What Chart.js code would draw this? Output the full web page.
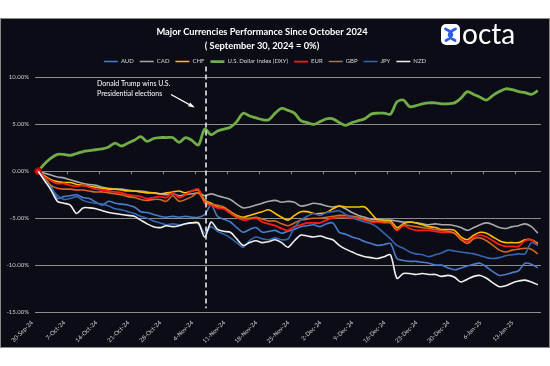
<!DOCTYPE html>
<html>
<head>
<meta charset="utf-8">
<script src="https://cdn.jsdelivr.net/npm/chart.js@4"></script>
<style>
    html, body { margin: 0; padding: 0; background: #ffffff; }
    #box {
        position: absolute; left: 0; top: 18px;
        width: 548px; height: 328px;
        background: #0b0c16; border: 1px solid #8a8a8a;
    }
    canvas { display: block; }
</style>
</head>
<body>
<div id="box"><canvas id="currencyChart" width="548" height="328"></canvas></div>
<script>
// weekly tick labels (every 5th trading day)
const weekLabels = ["30-Sep-24", "7-Oct-24", "14-Oct-24", "21-Oct-24", "28-Oct-24", "4-Nov-24",
    "11-Nov-24", "18-Nov-24", "25-Nov-24", "2-Dec-24", "9-Dec-24", "16-Dec-24",
    "23-Dec-24", "30-Dec-24", "6-Jan-25", "13-Jan-25"];
const daysPerLabel = 5;
const electionIndex = 26;

// % change since 30 Sep 2024, one value per trading day
const audValues = [0,-0.7,-1.6,-2.9,-2.7,-2.6,-2.5,-2.8,-2.9,-3.3,
    -3.6,-3.2,-3.4,-3.5,-3.6,-3.8,-4.3,-4.4,-4.6,-4.8,
    -4.9,-4.8,-4.9,-4.8,-4.9,-4.9,-4.6,-3.6,-4.8,-5.1,
    -5.4,-6.0,-6.5,-6.2,-6.0,-6.5,-6.4,-6.3,-6.6,-6.4,
    -6.2,-5.9,-5.8,-5.7,-5.9,-5.6,-5.5,-6.5,-6.7,-7.0,
    -7.2,-7.5,-7.7,-7.9,-7.8,-7.7,-9.3,-9.5,-9.6,-9.6,
    -9.7,-9.8,-10.0,-10.0,-10.3,-10.5,-10.3,-10.1,-9.9,-9.8,
    -10.2,-10.7,-11.1,-11.0,-10.8,-10.6,-9.8,-9.9,-10.3];
const cadValues = [0,-0.2,-0.4,-0.6,-0.7,-0.9,-1.1,-1.3,-1.4,-1.5,
    -1.7,-1.8,-1.9,-1.9,-2.0,-2.1,-2.1,-2.2,-2.3,-2.4,
    -2.5,-2.4,-2.6,-2.5,-2.4,-2.3,-2.6,-2.4,-2.6,-2.8,
    -3.0,-3.5,-3.9,-3.8,-3.6,-3.4,-3.2,-3.1,-3.3,-3.2,
    -3.3,-3.7,-3.6,-3.4,-3.5,-3.7,-3.8,-3.7,-4.0,-4.4,
    -4.7,-4.9,-5.1,-5.1,-5.2,-5.2,-5.3,-5.4,-5.4,-5.5,
    -5.6,-5.7,-5.6,-5.7,-5.7,-5.8,-6.0,-6.3,-6.0,-5.7,
    -5.5,-5.7,-6.0,-6.1,-5.9,-5.8,-5.6,-5.9,-6.6];
const chfValues = [0,-0.5,-0.9,-1.1,-1.2,-1.2,-1.4,-1.5,-1.6,-1.7,
    -1.8,-1.9,-1.9,-2.0,-2.1,-2.1,-2.2,-2.3,-2.3,-2.4,
    -2.3,-2.2,-2.1,-2.3,-2.1,-2.0,-3.1,-3.4,-3.8,-3.9,
    -4.3,-4.7,-4.9,-4.7,-4.5,-4.3,-4.1,-4.5,-4.9,-5.2,
    -4.7,-4.3,-4.3,-4.5,-4.5,-4.4,-4.0,-3.7,-3.8,-3.8,
    -3.8,-3.8,-4.5,-5.2,-5.3,-5.3,-6.0,-5.6,-5.4,-5.5,
    -5.7,-5.9,-6.0,-6.2,-6.2,-6.3,-7.0,-7.3,-6.8,-6.5,
    -6.6,-7.0,-7.4,-7.6,-7.6,-7.6,-7.3,-7.3,-7.7];
const dxyValues = [0,0.8,1.4,1.8,1.8,1.7,1.9,2.1,2.2,2.3,
    2.4,2.6,3.0,2.7,3.0,3.3,3.7,3.2,3.5,3.6,
    3.6,3.6,3.1,3.6,3.3,2.8,4.5,3.9,4.3,4.5,
    4.7,5.3,6.2,5.9,5.7,5.5,5.5,6.2,6.7,6.5,
    6.2,5.4,5.2,5.0,5.3,5.6,5.6,5.2,4.9,5.2,
    5.4,5.6,6.1,6.2,6.2,6.1,7.4,7.6,6.9,7.0,
    7.2,7.3,7.3,7.2,7.2,7.3,7.8,8.5,8.2,7.9,
    7.6,8.1,8.5,8.8,8.7,8.5,8.4,8.2,8.6];
const eurValues = [0,-0.6,-1.0,-1.3,-1.3,-1.5,-1.6,-1.5,-1.7,-1.9,
    -2.0,-2.1,-2.2,-2.3,-2.5,-2.6,-2.7,-2.9,-2.8,-2.7,
    -2.8,-2.3,-2.8,-2.5,-2.1,-1.9,-3.4,-3.6,-3.9,-4.0,
    -4.5,-4.9,-5.2,-5.1,-5.0,-5.4,-5.6,-5.8,-6.1,-6.3,
    -5.9,-5.7,-5.5,-5.5,-5.5,-5.2,-5.0,-4.9,-4.9,-5.0,
    -5.1,-5.2,-5.4,-5.4,-5.5,-5.5,-6.3,-5.8,-6.1,-6.3,
    -6.3,-6.3,-6.4,-6.5,-6.5,-6.6,-7.2,-7.5,-7.0,-6.8,
    -7.0,-7.4,-7.8,-8.0,-8.0,-8.0,-7.4,-7.3,-7.9];
const gbpValues = [0,-0.8,-1.5,-1.8,-1.9,-1.9,-2.0,-2.0,-2.1,-2.2,
    -2.2,-2.3,-2.4,-2.5,-2.7,-2.8,-3.0,-3.1,-3.0,-3.0,
    -3.2,-2.6,-3.2,-3.0,-2.7,-2.3,-3.2,-3.5,-3.6,-3.8,
    -4.3,-4.8,-5.0,-5.0,-4.9,-5.1,-5.3,-5.3,-5.6,-5.8,
    -5.5,-5.2,-5.1,-5.0,-5.0,-4.9,-4.8,-4.7,-4.7,-4.8,
    -4.9,-5.1,-5.3,-5.3,-5.4,-5.5,-6.2,-5.7,-5.8,-5.9,
    -6.0,-6.1,-6.2,-6.3,-6.4,-6.6,-7.3,-7.7,-7.2,-7.1,
    -7.4,-7.9,-8.4,-8.6,-8.4,-8.3,-8.2,-8.3,-8.8];
const jpyValues = [0,-0.9,-1.8,-2.6,-3.0,-2.9,-2.7,-3.1,-3.3,-3.4,
    -3.5,-3.7,-4.0,-4.1,-4.3,-4.5,-4.8,-5.0,-5.3,-5.5,
    -5.7,-5.6,-5.7,-5.6,-5.5,-5.6,-6.6,-5.9,-6.4,-6.7,
    -7.1,-7.6,-8.1,-7.4,-7.0,-7.2,-7.3,-7.1,-7.3,-7.2,
    -6.0,-5.2,-4.8,-4.5,-4.7,-4.4,-4.3,-4.2,-4.6,-4.9,
    -5.2,-5.4,-5.6,-6.0,-6.6,-7.2,-7.9,-8.2,-8.6,-8.8,
    -8.9,-9.1,-8.9,-8.7,-8.4,-8.5,-8.6,-8.7,-8.8,-9.0,
    -9.2,-9.3,-9.2,-9.0,-8.9,-8.8,-8.8,-7.6,-7.9];
const nzdValues = [0,-1.0,-2.0,-3.2,-3.4,-3.6,-4.5,-3.9,-3.9,-4.0,
    -4.2,-4.4,-4.5,-4.6,-4.7,-4.8,-5.2,-5.6,-5.9,-6.0,
    -5.8,-5.9,-5.8,-5.6,-5.5,-5.5,-7.0,-5.4,-6.2,-6.4,
    -6.5,-7.2,-7.9,-7.6,-7.4,-7.6,-7.5,-7.3,-7.6,-8.1,
    -7.4,-6.8,-6.9,-7.0,-6.9,-7.1,-7.3,-7.9,-8.3,-8.6,
    -8.9,-9.1,-9.2,-9.3,-9.1,-8.9,-11.4,-10.9,-10.9,-11.0,
    -10.9,-11.0,-11.0,-11.2,-11.1,-11.3,-11.8,-11.5,-11.2,-11.1,
    -11.4,-11.9,-12.3,-12.2,-11.9,-11.7,-11.6,-11.8,-12.1];

const labels = dxyValues.map((v, i) => (i % daysPerLabel === 0 ? weekLabels[i / daysPerLabel] : ""));

const series = [
    { label: "AUD", data: audValues, color: "#4a7cc9", width: 1.6 },
    { label: "CAD", data: cadValues, color: "#a9a9a9", width: 1.6 },
    { label: "CHF", data: chfValues, color: "#ffc000", width: 1.6 },
    { label: "U.S. Dollar Index (DXY)", data: dxyValues, color: "#70ad47", width: 2.8 },
    { label: "EUR", data: eurValues, color: "#ff1a1a", width: 1.8 },
    { label: "GBP", data: gbpValues, color: "#d2691e", width: 1.6 },
    { label: "JPY", data: jpyValues, color: "#3566b0", width: 1.6 },
    { label: "NZD", data: nzdValues, color: "#f0f0f0", width: 1.6 }
];

const titleShift = -9;
const legendShift = -6;

// dashed election line, note, small axis ticks on the zero line, logo
const extrasPlugin = {
    id: "extras",
    afterInit(chart) {
        const legend = chart.legend;
        const fit = legend.fit;
        legend.fit = function () {
            fit.call(this);
            this.height += 3;
        };
    },
    afterLayout(chart) {
        chart.titleBlock.left += titleShift;
        chart.titleBlock.right += titleShift;
        chart.legend.left += legendShift;
        chart.legend.right += legendShift;
    },
    afterDatasetsDraw(chart) {
        const ctx = chart.ctx;
        const xs = chart.scales.x;
        const ys = chart.scales.y;
        const zeroY = ys.getPixelForValue(0);

        ctx.save();
        ctx.strokeStyle = "#8c8c8c";
        ctx.lineWidth = 1;
        for (let k = 0; k < weekLabels.length - 1; k++) {
            const tx = Math.round(xs.getPixelForValue(k * daysPerLabel + daysPerLabel - 0.5)) + 0.5;
            ctx.beginPath();
            ctx.moveTo(tx, zeroY);
            ctx.lineTo(tx, zeroY + 3);
            ctx.stroke();
        }

        const lx = xs.getPixelForValue(electionIndex + 0.2);
        ctx.strokeStyle = "#e8e8e8";
        ctx.lineWidth = 1.6;
        ctx.setLineDash([5, 3]);
        ctx.beginPath();
        ctx.moveTo(lx, chart.chartArea.top - 11);
        ctx.lineTo(lx, ys.getPixelForValue(-14.6));
        ctx.stroke();
        ctx.setLineDash([]);

        ctx.fillStyle = "#ffffff";
        ctx.font = "7px Lato";
        ctx.textAlign = "left";
        ctx.textBaseline = "middle";
        ctx.fillText("Donald Trump wins U.S.", lx - 109, ys.getPixelForValue(9.35));
        ctx.fillText("Presidential elections", lx - 109, ys.getPixelForValue(8.3));

        const ax0 = lx - 35, ay0 = ys.getPixelForValue(8.2);
        const ax1 = lx - 13, ay1 = ys.getPixelForValue(6.9);
        ctx.strokeStyle = "#ffffff";
        ctx.lineWidth = 1.2;
        ctx.beginPath();
        ctx.moveTo(ax0, ay0);
        ctx.lineTo(ax1, ay1);
        ctx.stroke();
        const ang = Math.atan2(ay1 - ay0, ax1 - ax0);
        ctx.beginPath();
        ctx.moveTo(ax1 + 2 * Math.cos(ang), ay1 + 2 * Math.sin(ang));
        ctx.lineTo(ax1 - 5 * Math.cos(ang - 0.45), ay1 - 5 * Math.sin(ang - 0.45));
        ctx.lineTo(ax1 - 5 * Math.cos(ang + 0.45), ay1 - 5 * Math.sin(ang + 0.45));
        ctx.closePath();
        ctx.fill();
        ctx.restore();
    },
    afterDraw(chart) {
        const ctx = chart.ctx;
        ctx.save();
        ctx.fillStyle = "#ffffff";
        ctx.beginPath();
        ctx.roundRect(440, 5, 19, 21, 5);
        ctx.fill();
        ctx.strokeStyle = "#2f5bea";
        ctx.lineWidth = 2.8;
        ctx.lineCap = "round";
        ctx.beginPath();
        ctx.moveTo(444.5, 10);
        ctx.quadraticCurveTo(457, 15.5, 445, 21.5);
        ctx.moveTo(454.5, 10);
        ctx.quadraticCurveTo(442, 15.5, 454, 21.5);
        ctx.stroke();
        ctx.fillStyle = "#ffffff";
        ctx.font = "28px Lato";
        ctx.textAlign = "left";
        ctx.textBaseline = "alphabetic";
        ctx.fillText("octa", 461, 25);
        ctx.restore();
    }
};

new Chart(document.getElementById("currencyChart"), {
    type: "line",
    data: {
        labels: labels,
        datasets: series.map((s, i) => ({
            label: s.label,
            data: s.data,
            borderColor: s.color,
            backgroundColor: s.color,
            borderWidth: s.width,
            tension: 0.3,
            pointRadius: s.label === "EUR" ? s.data.map((v, j) => (j === 0 ? 3.5 : 0)) : 0,
            pointBackgroundColor: s.label === "EUR" ? "#e01010" : s.color,
            pointBorderColor: s.label === "EUR" ? "#8b0000" : s.color,
            pointBorderWidth: 1,
            order: series.length - i
        }))
    },
    options: {
        responsive: false,
        animation: false,
        layout: { padding: { left: 0, right: 8, top: 0, bottom: 0 } },
        plugins: {
            title: {
                display: true,
                text: ["Major Currencies Performance Since October 2024", "( September 30, 2024 = 0%)"],
                color: "#ffffff",
                font: { family: "Lato", size: 9.3, weight: "bold", lineHeight: 1.48 },
                padding: { top: 6, bottom: 0 }
            },
            legend: {
                display: true,
                labels: {
                    color: "#d9d9d9",
                    font: { family: "Lato", size: 6 },
                    usePointStyle: true,
                    pointStyle: "line",
                    pointStyleWidth: 14,
                    padding: 6,
                    sort: (a, b) => a.datasetIndex - b.datasetIndex,
                    generateLabels(chart) {
                        const items = Chart.defaults.plugins.legend.labels.generateLabels(chart);
                        items.forEach(item => {
                            const ds = chart.data.datasets[item.datasetIndex];
                            item.strokeStyle = ds.borderColor;
                            item.fillStyle = ds.borderColor;
                            item.lineWidth = ds.borderWidth;
                        });
                        return items;
                    }
                }
            },
            tooltip: { enabled: false }
        },
        scales: {
            x: {
                offset: true,
                grid: { display: false },
                border: { display: false },
                ticks: {
                    autoSkip: false,
                    maxRotation: 45,
                    minRotation: 45,
                    color: "#d0d0d0",
                    font: { family: "Lato", size: 6 },
                    padding: -1,
                    labelOffset: -6
                },
                afterFit(scale) { scale.height = 35; }
            },
            y: {
                min: -15,
                max: 10,
                ticks: {
                    stepSize: 5,
                    padding: 6,
                    color: "#d0d0d0",
                    font: { family: "Lato", size: 6 },
                    callback: v => v.toFixed(2) + "%"
                },
                grid: { color: "#8c8c8c", lineWidth: 1, drawTicks: false },
                border: { display: false },
                afterFit(scale) { scale.width = 34; }
            }
        }
    },
    plugins: [extrasPlugin]
});
</script>
</body>
</html>
